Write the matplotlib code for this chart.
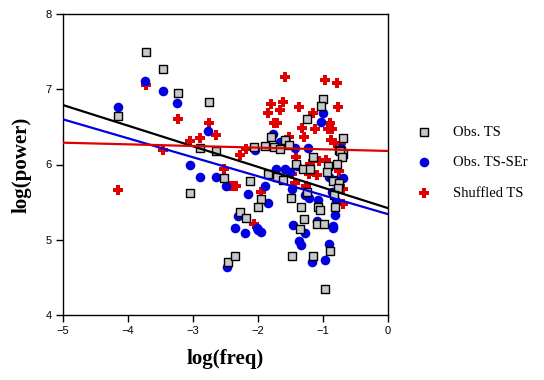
import numpy as np
import matplotlib
matplotlib.use("Agg")
import matplotlib.pyplot as plt

# Obs. TS (grey squares)
ts_x = [-3.73, -3.46, -3.23, -2.76, -4.15, -2.89, -2.64, -2.53, -3.04, -2.46, -2.35,
        -1.80, -1.58, -1.53, -1.75, -1.66, -1.89, -2.06, -1.24, -0.995, -1.03, -0.70, -0.755,
        -1.415, -1.31, -1.84, -1.71, -1.61, -2.13, -1.95, -1.995, -1.50, -1.34, -2.27, -2.19, -1.30,
        -1.15, -0.69, -0.74, -0.71, -0.785, -0.92, -1.195, -0.94, -0.846, -0.755, -0.765, -1.24,
        -0.83, -1.07, -1.04, -0.81, -1.09, -0.98, -1.36, -1.47, -0.90, -1.16, -0.965]
ts_y = [7.49, 7.265, 6.95, 6.83, 6.65, 6.22, 6.18, 5.82, 5.62, 4.70, 4.79,
        6.36, 6.33, 6.26, 6.23, 6.21, 6.24, 6.23, 6.61, 6.87, 6.78, 6.35, 6.19,
        6.01, 5.94, 5.87, 5.83, 5.79, 5.78, 5.54, 5.44, 5.555, 5.43, 5.37, 5.29, 5.27,
        6.10, 6.14, 6.18, 6.10, 6.01, 5.98, 5.94, 5.90, 5.78, 5.76, 5.69, 5.64,
        5.59, 5.44, 5.39, 5.43, 5.205, 5.205, 5.14, 4.78, 4.85, 4.79, 4.34]

# Obs. TS-SEr (blue circles)
ser_x = [-3.74, -3.46, -3.24, -4.16, -2.77, -3.05, -2.89, -2.65, -2.50, -2.47,
         -1.77, -1.66, -1.43, -2.05, -1.00, -1.03, -1.23, -0.73,
         -1.72, -1.58, -1.51, -1.40, -1.89, -2.15, -1.85, -1.48, -1.27, -2.31, -2.35, -2.02, -1.46,
         -0.85, -0.80, -0.86, -1.22, -1.08, -0.80, -0.82, -1.10, -0.85, -0.91, -0.70,
         -2.20, -2.00, -1.95, -1.37, -1.34, -1.28, -0.91, -1.17, -0.97, -0.84]
ser_y = [7.11, 6.98, 6.82, 6.77, 6.45, 6.00, 5.83, 5.84, 5.71, 4.64,
         6.41, 6.30, 6.22, 6.19, 6.69, 6.57, 6.22, 6.22,
         5.94, 5.94, 5.90, 5.98, 5.72, 5.61, 5.49, 5.68, 5.60, 5.31, 5.15, 5.16, 5.20,
         5.80, 5.79, 5.64, 5.55, 5.53, 5.51, 5.33, 5.25, 5.18, 5.84, 5.82,
         5.09, 5.13, 5.10, 4.98, 4.93, 5.09, 4.95, 4.71, 4.73, 5.16]

# Shuffled TS (red crosses)
shuf_x = [-3.73, -3.23, -2.76, -2.64, -2.89, -3.04, -3.46, -2.53, -2.44, -4.15,
          -1.58, -1.795, -1.61, -1.37, -1.84, -1.657, -1.76, -1.71, -1.33, -1.30, -1.53, -2.19,
          -0.965, -0.78, -0.765, -1.15, -0.90, -1.12, -0.93, -0.86, -0.87, -0.81, -0.72,
          -2.28, -1.42, -2.40, -2.34, -1.95, -1.43, -1.48, -2.06,
          -1.06, -0.95, -1.22, -1.09, -0.755, -0.69, -1.26, -0.69, -1.20]
shuf_y = [7.06, 6.605, 6.55, 6.39, 6.35, 6.31, 6.19, 5.94, 5.71, 5.66,
          7.16, 6.81, 6.83, 6.76, 6.68, 6.72, 6.55, 6.55, 6.49, 6.36, 6.37, 6.20,
          7.12, 7.08, 6.76, 6.68, 6.55, 6.47, 6.47, 6.47, 6.32, 6.28, 6.28,
          6.12, 6.10, 5.72, 5.72, 5.64, 5.76, 5.87, 5.21,
          6.04, 6.06, 5.88, 5.86, 5.91, 5.67, 5.72, 5.47, 6.01]

# regression lines: value at x=-5 and x=0
fit_ends = {"ts": (6.79, 5.42), "ser": (6.60, 5.34), "shuf": (6.29, 6.18)}
fit_x = [-5, 0]

fig = plt.figure(figsize=(5.44, 3.80), dpi=100)
ax = fig.add_axes([63 / 544, 65 / 380, 325 / 544, 301 / 380])

ax.scatter(shuf_x, shuf_y, marker="P", s=50, color="#e00000", linewidths=0, zorder=2,
           label="Shuffled TS")
ax.scatter(ser_x, ser_y, marker="o", s=48, color="#0000e0", linewidths=0, zorder=3,
           label="Obs. TS-SEr")
ax.scatter(ts_x, ts_y, marker="s", s=30, facecolor="#c8c8c8", edgecolor="black",
           linewidths=1.0, zorder=4, label="Obs. TS")

ax.plot(fit_x, fit_ends["ts"], color="black", lw=1.6, zorder=5)
ax.plot(fit_x, fit_ends["ser"], color="#0000e0", lw=1.6, zorder=5)
ax.plot(fit_x, fit_ends["shuf"], color="#e00000", lw=1.6, zorder=5)

ax.set_xlim(-5, 0)
ax.set_ylim(4, 8)
ax.set_xticks([-5, -4, -3, -2, -1, 0])
ax.set_yticks([4, 5, 6, 7, 8])
ax.tick_params(direction="out", length=5, width=1, labelsize=8, pad=3)
for lab in ax.get_xticklabels() + ax.get_yticklabels():
    lab.set_family("Liberation Sans")
for sp in ax.spines.values():
    sp.set_linewidth(1)

ax.set_xlabel("log(freq)", family="Liberation Serif", fontweight="bold", fontsize=15,
              labelpad=9)
ax.set_ylabel("log(power)", family="Liberation Serif", fontweight="bold", fontsize=15,
              labelpad=10)

handles, labels = ax.get_legend_handles_labels()
order = [2, 1, 0]
fig.legend([handles[i] for i in order], [labels[i] for i in order],
           loc="upper left", bbox_to_anchor=(406 / 544, 1 - 118 / 380),
           frameon=False, prop={"family": "Liberation Serif", "size": 10.5},
           labelspacing=1.2, handletextpad=1.2, borderpad=0, handlelength=1.5)

fig.savefig("out.png", dpi=100)
